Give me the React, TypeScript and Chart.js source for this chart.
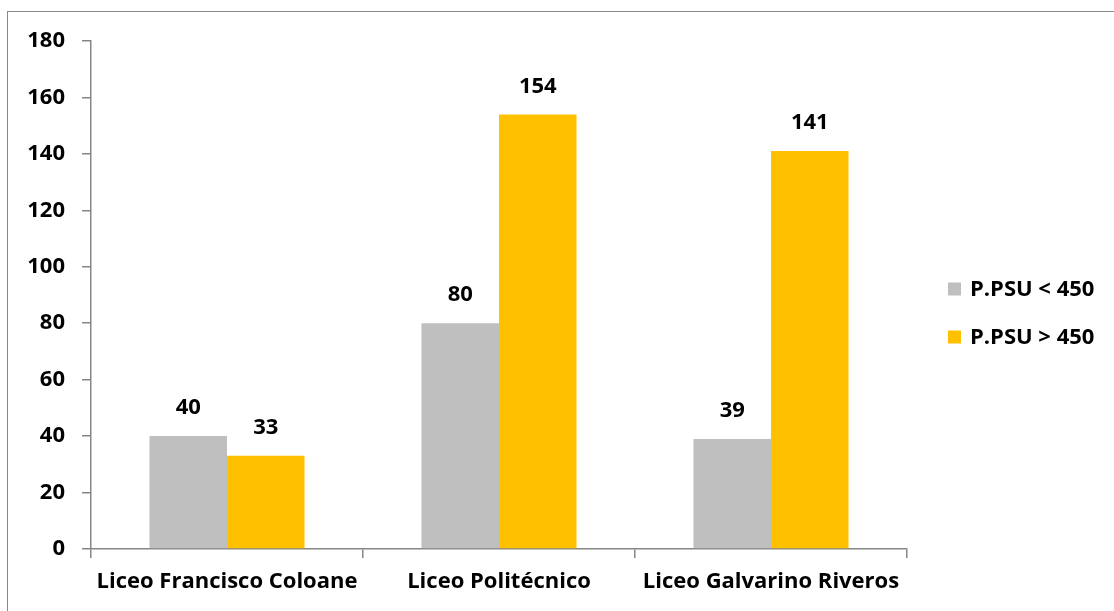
import React, { useEffect, useRef } from "react";
import { Chart, registerables } from "chart.js";

Chart.register(...registerables);

const categories = ["Liceo Francisco Coloane", "Liceo Politécnico", "Liceo Galvarino Riveros"];
const seriesNames = ["P.PSU < 450", "P.PSU > 450"];
const below450 = [40, 80, 39];
const above450 = [33, 154, 141];
const seriesColors = ["#bfbfbf", "#ffc000"];
const yMin = 0;
const yMax = 180;
const yStep = 20;

const FONT = "'Open Sans', 'DejaVu Sans', sans-serif";
const FONT_SIZE = 22;
const AXIS_COLOR = "#868686";

const valueLabels = {
  id: "valueLabels",
  afterDatasetsDraw(chart: any) {
    const ctx = chart.ctx;
    ctx.save();
    ctx.fillStyle = "#000";
    ctx.font = `bold ${FONT_SIZE}px ${FONT}`;
    ctx.textAlign = "center";
    ctx.textBaseline = "middle";
    chart.data.datasets.forEach((ds: any, i: number) => {
      const meta = chart.getDatasetMeta(i);
      meta.data.forEach((bar: any, j: number) => {
        ctx.fillText(String(ds.data[j]), bar.x, bar.y - 28);
      });
    });
    ctx.restore();
  },
};

const sideLegend = {
  id: "sideLegend",
  afterDraw(chart: any) {
    const ctx = chart.ctx;
    const area = chart.chartArea;
    const boxX = area.right + 41;
    const box = 13;
    const rowGap = 48;
    const n = chart.data.datasets.length;
    const centerY = (area.top + area.bottom) / 2 + 18;
    const startY = centerY - ((n - 1) * rowGap) / 2;
    ctx.save();
    ctx.font = `bold ${FONT_SIZE}px ${FONT}`;
    ctx.textAlign = "left";
    ctx.textBaseline = "middle";
    chart.data.datasets.forEach((ds: any, i: number) => {
      const cy = startY + i * rowGap;
      ctx.fillStyle = ds.backgroundColor;
      ctx.fillRect(boxX, cy - box / 2, box, box);
      ctx.fillStyle = "#000";
      ctx.fillText(ds.label, boxX + box + 9, cy + 1);
    });
    ctx.restore();
  },
};

export default function App() {
  const ref = useRef<HTMLCanvasElement | null>(null);

  useEffect(() => {
    if (!ref.current) return;
    const chart = new Chart(ref.current, {
      type: "bar",
      data: {
        labels: categories,
        datasets: [
          { label: seriesNames[0], data: below450, backgroundColor: seriesColors[0], borderWidth: 0 },
          { label: seriesNames[1], data: above450, backgroundColor: seriesColors[1], borderWidth: 0 },
        ],
      },
      options: {
        responsive: false,
        animation: false,
        devicePixelRatio: 1,
        layout: { padding: { left: 0, top: 41, right: 1114 - 907, bottom: 0 } },
        datasets: { bar: { categoryPercentage: 0.57, barPercentage: 1 } },
        plugins: {
          tooltip: { enabled: false },
          legend: { display: false },
        },
        scales: {
          x: {
            border: { color: AXIS_COLOR, width: 1.5 },
            grid: { display: true, drawOnChartArea: false, drawTicks: true, tickLength: 9, color: AXIS_COLOR, lineWidth: 1.5, offset: true },
            ticks: { color: "#000", font: { family: FONT, size: FONT_SIZE, weight: "bold" }, padding: 11, maxRotation: 0, autoSkip: false },
            afterFit(scale: any) {
              scale.height = 611 - 549;
            },
          },
          y: {
            min: yMin,
            max: yMax,
            border: { color: AXIS_COLOR, width: 1.5 },
            grid: { display: true, drawOnChartArea: false, drawTicks: true, tickLength: 9, color: AXIS_COLOR, lineWidth: 1.5 },
            ticks: { stepSize: yStep, color: "#000", font: { family: FONT, size: FONT_SIZE, weight: "bold" }, padding: 17 },
            afterFit(scale: any) {
              scale.width = 91;
            },
          },
        },
      },
      plugins: [valueLabels, sideLegend],
    });
    return () => chart.destroy();
  }, []);

  return (
    <div style={{ position: "fixed", left: 0, top: 0, width: 1114, height: 611, overflow: "hidden", background: "#fff" }}>
      <div style={{ position: "absolute", left: 7, top: 11, width: 1200, height: 700, border: "1.5px solid #888", boxSizing: "border-box" }} />
      <canvas ref={ref} width={1114} height={611} style={{ position: "absolute", left: 0, top: 0 }} />
    </div>
  );
}
